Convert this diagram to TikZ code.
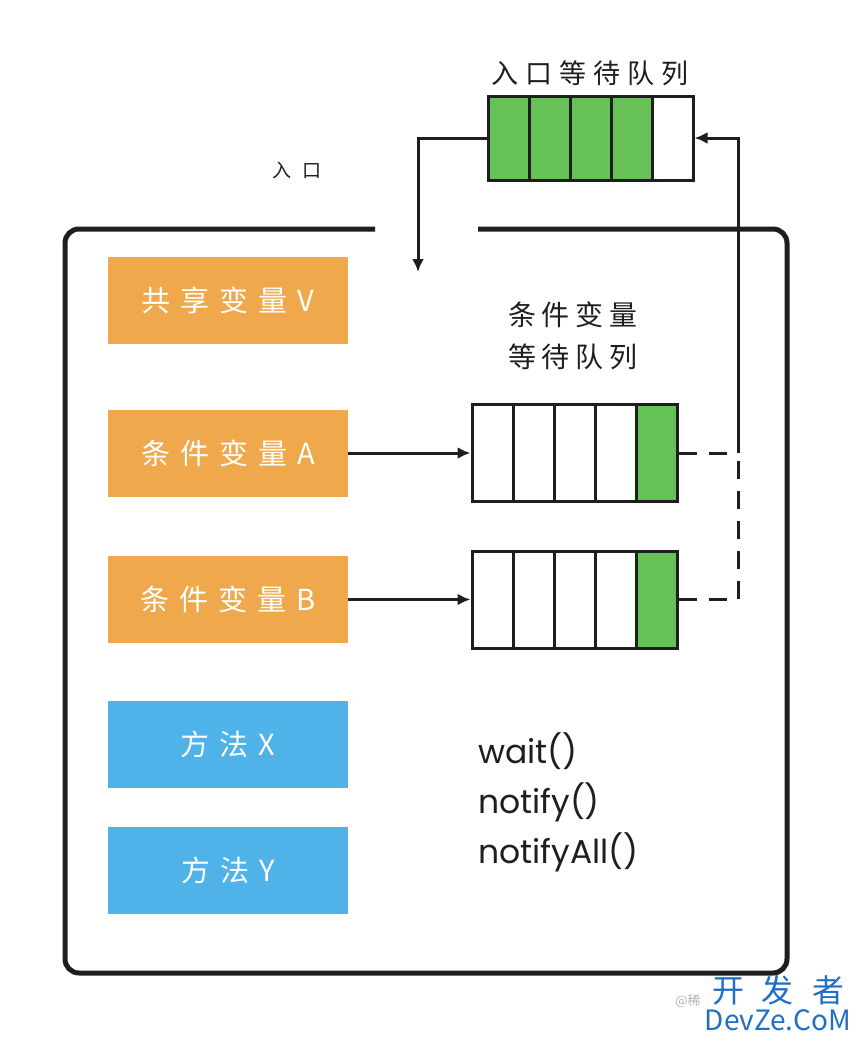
\documentclass[tikz,border=0pt]{standalone}
\usepackage{fontspec}
\setmainfont{Noto Sans CJK SC}
\newfontfamily\latinfont{Poppins}
\usetikzlibrary{arrows.meta}
\definecolor{myorange}{HTML}{EFA84B}
\definecolor{myblue}{HTML}{4FB2E8}
\definecolor{mygreen}{HTML}{66C157}
\definecolor{mylinec}{HTML}{1E1E1E}
\definecolor{wmblue}{HTML}{1F6FC5}
\newcommand\cg{\hspace{10pt}}
\begin{document}
\begin{tikzpicture}[x=1pt,y=-1pt,
  obox/.style={fill=myorange, draw=none, minimum width=240pt, minimum height=87pt, inner sep=0pt, text=white, font=\fontsize{29}{32}\selectfont},
  bbox/.style={fill=myblue, draw=none, minimum width=240pt, minimum height=87pt, inner sep=0pt, text=white, font=\fontsize{29}{32}\selectfont},
  ecell/.style={draw=mylinec, line width=3pt, minimum width=41pt, minimum height=84pt, inner sep=0pt},
  ccell/.style={draw=mylinec, line width=3pt, minimum width=41pt, minimum height=97pt, inner sep=0pt},
  conn/.style={draw=mylinec, line width=3pt},
  tip/.style={-{Latex[length=13pt,width=12pt]}},
  lbl/.style={inner sep=0pt, text=mylinec}
]
\useasboundingbox (0,0) rectangle (862,1041);

% main box
\draw[mylinec, line width=5pt, rounded corners=14pt]
  (375,229) -- (65,229) -- (65,973) -- (787,973) -- (787,229) -- (478,229);

% entry queue
\foreach \i in {1,...,4} \node[ecell, fill=mygreen] (e\i) at (488+41*\i-20.5,138) {};
\node[ecell, fill=white] (e5) at (488+41*5-20.5,138) {};
\node[lbl, font=\fontsize{27}{30}\selectfont] (elbl) at (590,73) {入\hspace{7pt}口\hspace{7pt}等\hspace{7pt}待\hspace{7pt}队\hspace{7pt}列};

% entry label
\node[lbl, font=\fontsize{19}{20}\selectfont] (entrylbl) at (297,170) {入\hspace{11pt}口};
\coordinate (entry) at (418,272);
\draw[conn, tip] (e1.west) -| (entry);

% boxes
\node[obox] (ov) at (228,300.5) {共\cg{}享\cg{}变\cg{}量\cg{}V};
\node[obox] (oa) at (228,453) {条\cg{}件\cg{}变\cg{}量\cg{}A};
\node[obox] (ob) at (228,599.5) {条\cg{}件\cg{}变\cg{}量\cg{}B};
\node[bbox] (mx) at (228,744.5) {方\cg{}法\cg{}X};
\node[bbox] (my) at (228,870.5) {方\cg{}法\cg{}Y};

% condition queue label
\node[lbl, align=center, font=\fontsize{28}{42}\selectfont] (clbl) at (573,336) {条\hspace{6pt}件\hspace{6pt}变\hspace{6pt}量\\等\hspace{6pt}待\hspace{6pt}队\hspace{6pt}列};

% condition queues
\foreach \i in {1,...,4} \node[ccell, fill=white] (a\i) at (472+41*\i-20.5,453) {};
\node[ccell, fill=mygreen] (a5) at (472+41*5-20.5,453) {};
\foreach \i in {1,...,4} \node[ccell, fill=white] (b\i) at (472+41*\i-20.5,599.5) {};
\node[ccell, fill=mygreen] (b5) at (472+41*5-20.5,599.5) {};

\draw[conn, tip] (oa.east) -- (a1.west);
\draw[conn, tip] (ob.east) -- (b1.west);

% return path
\coordinate (j) at (738,453);
\draw[conn, dash pattern=on 18pt off 12pt] (a5.east) -- (j);
\draw[conn, dash pattern=on 18pt off 12pt] (b5.east) -| (j);
\draw[conn, tip] (j) |- (e5.east);

% methods
\node[lbl, anchor=west, align=left, font=\latinfont\fontsize{33}{50}\selectfont] (meth) at (478,802) {wait()\\notify()\\notifyAll()};

% watermark
\node[lbl, text=gray!60, font=\fontsize{13}{14}\selectfont] (wm0) at (688,1001) {@稀};
\node[lbl, text=wmblue, font=\fontsize{32}{34}\selectfont] (wm1) at (778,990) {开\hspace{18pt}发\hspace{18pt}者};
\node[lbl, text=wmblue, font=\fontsize{28}{30}\selectfont] (wm2) at (778,1020) {DevZe.CoM};
\end{tikzpicture}
\end{document}
